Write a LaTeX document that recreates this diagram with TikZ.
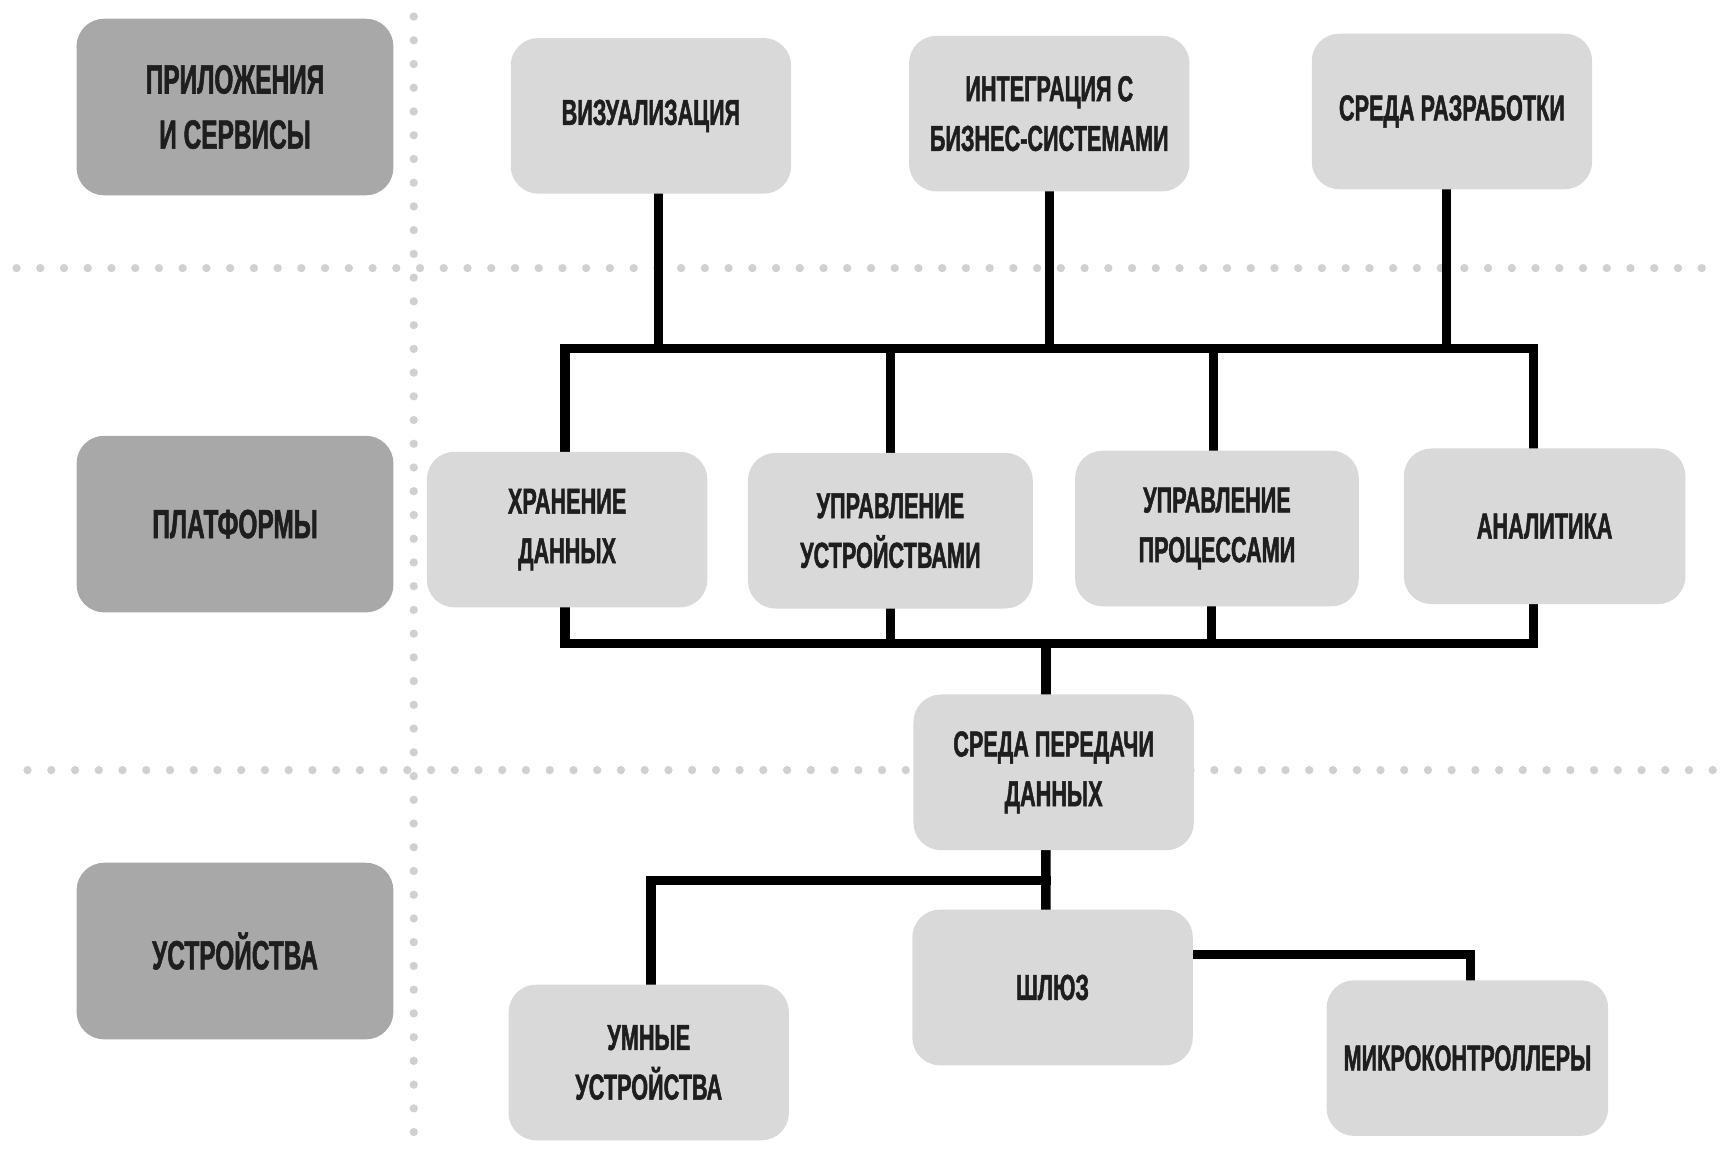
\documentclass[tikz,border=0pt]{standalone}
\usepackage{fontspec}
\setmainfont{Liberation Sans}[FakeStretch=0.6, BoldFeatures={FakeBold=1.3}]
\usetikzlibrary{calc}
\pgfdeclarelayer{bg}
\pgfsetlayers{bg,main}
\definecolor{lightbox}{HTML}{D9D9D9}
\definecolor{darkbox}{HTML}{A8A8A8}
\definecolor{dotc}{HTML}{D0D0D0}
\definecolor{txt}{HTML}{1E1E1E}
\begin{document}
\begin{tikzpicture}[x=0.01cm,y=-0.01cm,
 box/.style={rounded corners=0.25cm, fill=lightbox, minimum width=2.54cm, minimum height=1.41cm, align=center, text=txt, font=\bfseries\fontsize{9.3}{12.8}\selectfont, inner sep=0pt},
 labelbox/.style={box, fill=darkbox, minimum width=2.87cm, minimum height=1.6cm, font=\bfseries\fontsize{10.5}{14.2}\selectfont},
 conn/.style={line width=0.085cm, black, line cap=rect, line join=miter},
 dots/.style={dotc, line width=0.075cm, line cap=round, dash pattern=on 0pt off 0.215cm}]
\useasboundingbox (0,0) rectangle (1568,1045);

% layer labels
\node[labelbox] (lapp) at (213,97) {ПРИЛОЖЕНИЯ\\И СЕРВИСЫ};
\node[labelbox] (lplat) at (213,475) {ПЛАТФОРМЫ};
\node[labelbox] (ldev) at (213,862) {УСТРОЙСТВА};

% applications
\node[box] (viz) at (590,105) {ВИЗУАЛИЗАЦИЯ};
\node[box] (integ) at (951,103) {ИНТЕГРАЦИЯ С\\БИЗНЕС-СИСТЕМАМИ};
\node[box] (sreda) at (1316,101) {СРЕДА РАЗРАБОТКИ};

% platforms
\node[box] (hran) at (514,480) {ХРАНЕНИЕ\\ДАННЫХ};
\node[box, minimum width=2.58cm] (udev) at (807,481) {УПРАВЛЕНИЕ\\УСТРОЙСТВАМИ};
\node[box, minimum width=2.57cm] (uproc) at (1103,479) {УПРАВЛЕНИЕ\\ПРОЦЕССАМИ};
\node[box, minimum width=2.55cm] (anal) at (1400,477) {АНАЛИТИКА};

% transport
\node[box] (peredacha) at (955,700) {СРЕДА ПЕРЕДАЧИ\\ДАННЫХ};

% devices
\node[box] (shluz) at (954,895) {ШЛЮЗ};
\node[box] (umn) at (588,963) {УМНЫЕ\\УСТРОЙСТВА};
\node[box, minimum width=2.55cm] (mikro) at (1330,959) {МИКРОКОНТРОЛЛЕРЫ};

\coordinate (busA) at (0,316);
\coordinate (busB) at (0,583);
\coordinate (busC) at (0,798);
\coordinate (busD) at (0,865);

\begin{pgfonlayer}{bg}
\fill[white] (0,0) rectangle (1568,1045);
% dotted separators
\draw[dots] (15,243) -- (1560,243);
\draw[dots] (25,698) -- (1560,698);
\draw[dots] (375,15) -- (375,1040);

% application bus
\draw[conn] ([xshift=0.07cm]viz.south) -- ([xshift=0.07cm]viz.south |- busA);
\draw[conn] (integ.south) -- (integ.south |- busA);
\draw[conn] ([xshift=-0.05cm]sreda.south) -- ([xshift=-0.05cm]sreda.south |- busA);
\draw[conn] ([xshift=-0.02cm]hran.north) -- ([xshift=-0.02cm]hran.north |- busA)
  -- ([xshift=-0.1cm]anal.north |- busA) -- ([xshift=-0.1cm]anal.north);
\draw[conn] (udev.north) -- (udev.north |- busA);
\draw[conn] ([xshift=-0.03cm]uproc.north) -- ([xshift=-0.03cm]uproc.north |- busA);

% platform bus
\draw[conn] ([xshift=-0.02cm]hran.south) -- ([xshift=-0.02cm]hran.south |- busB)
  -- ([xshift=-0.1cm]anal.south |- busB) -- ([xshift=-0.1cm]anal.south);
\draw[conn] (udev.south) -- (udev.south |- busB);
\draw[conn] ([xshift=-0.05cm]uproc.south) -- ([xshift=-0.05cm]uproc.south |- busB);
\draw[conn] ([xshift=-0.07cm]peredacha.north |- busB) -- ([xshift=-0.07cm]peredacha.north);

% devices
\draw[conn] ([xshift=-0.07cm]peredacha.south) -- ([xshift=-0.06cm]shluz.north);
\draw[conn] ([xshift=-0.07cm]peredacha.south |- busC) -- ([xshift=0.02cm]umn.north |- busC) -- ([xshift=0.02cm]umn.north);
\draw[conn] (shluz.east |- busD) -- ([xshift=0.03cm]mikro.north |- busD) -- ([xshift=0.03cm]mikro.north);
\end{pgfonlayer}
\end{tikzpicture}
\end{document}
